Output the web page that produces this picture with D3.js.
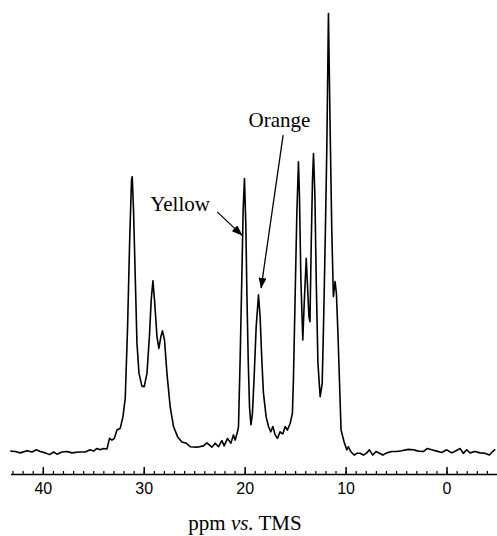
<!DOCTYPE html>
<html>
<head>
<meta charset="utf-8">
<script src="https://cdn.jsdelivr.net/npm/d3@7"></script>
<style>
	body { margin: 0; background: #fff; }
</style>
</head>
<body>
<svg id="svg"></svg>
<script>
// spectre : deplacement chimique (ppm) et intensite (pic le plus haut = 100)
var ppm = [43.22, 42.72, 42.23, 41.56, 41.07, 40.64, 40.25, 39.75, 39.33, 38.93, 38.60, 38.10, 37.61, 37.11, 36.46, 35.79, 35.30, 34.97, 34.63, 34.31,
	33.98, 33.64, 33.39, 33.15, 32.92, 32.65, 32.33, 32.06, 31.83, 31.60, 31.40, 31.21, 31.14, 31.01, 30.84, 30.67, 30.47, 30.18, 29.95, 29.68,
	29.42, 29.26, 29.09, 28.93, 28.69, 28.50, 28.30, 28.14, 27.94, 27.70, 27.38, 27.05, 26.65, 26.22, 25.79, 25.40, 24.73, 24.08, 23.74, 23.25,
	22.92, 22.59, 22.26, 22.03, 21.70, 21.37, 21.11, 20.94, 20.71, 20.61, 20.45, 20.28, 20.15, 20.02, 19.88, 19.78, 19.65, 19.52, 19.38, 19.23,
	19.06, 18.86, 18.63, 18.47, 18.30, 18.14, 17.87, 17.64, 17.41, 17.21, 16.98, 16.75, 16.49, 16.22, 15.99, 15.76, 15.50, 15.27, 15.17, 15.00,
	14.83, 14.67, 14.57, 14.43, 14.24, 14.10, 13.90, 13.77, 13.63, 13.53, 13.41, 13.28, 13.18, 13.04, 12.91, 12.74, 12.52, 12.32, 12.16, 12.00,
	11.86, 11.70, 11.53, 11.37, 11.21, 11.04, 10.91, 10.77, 10.61, 10.45, 10.15, 9.88, 9.72, 9.49, 9.16, 8.89, 8.56, 8.24, 7.90, 7.64,
	7.31, 6.98, 6.65, 6.31, 5.92, 5.43, 4.93, 4.44, 3.79, 3.29, 2.79, 2.30, 1.90, 1.47, 0.97, 0.48, -0.02, -0.51, -0.94, -1.34,
	-1.66, -2.00, -2.33, -2.82, -3.32, -3.81, -4.24, -4.57, -4.83];

var intensity = [0.2, 0.1, -0.2, 0.3, 0, 0.5, 0.1, -0.2, -0.6, 0, -0.5, 0, 0.1, -0.2, 0, 0, 0.5, 0.2, 0.8, 0.5,
	0.8, 0.7, 3.1, 2.7, 3.1, 5.0, 5.4, 8.0, 12.3, 28.5, 47.6, 62.0, 62.7, 55.1, 39.9, 24.8, 17.9, 15.0, 14.9, 17.9,
	27.0, 34.6, 39.0, 34.6, 26.3, 23.6, 26.3, 27.6, 25.5, 17.9, 10.3, 5.8, 3.5, 2.3, 2.0, 1.2, 1.1, 1.4, 2.1, 1.1,
	2.0, 1.2, 2.6, 1.4, 3.1, 2.0, 3.9, 2.7, 4.6, 5.8, 21.0, 39.9, 55.1, 62.3, 51.3, 36.2, 21.0, 10.3, 6.2, 8.8,
	17.2, 28.5, 35.8, 30.8, 21.0, 13.4, 8.0, 5.8, 4.6, 5.8, 3.9, 3.1, 4.6, 4.1, 5.8, 5.0, 6.5, 8.8, 16.4, 35.4,
	54.4, 66.1, 58.2, 39.2, 25.5, 33.9, 44.1, 37.7, 30.8, 29.7, 46.8, 62.0, 68.0, 58.2, 39.2, 20.2, 12.6, 15.6, 31.6, 50.6,
	69.5, 99.9, 73.3, 50.6, 35.4, 38.8, 36.1, 27.8, 16.4, 5.0, 2.3, 0.5, 1.2, 0.1, -0.7, -0.3, -0.3, -0.7, -0.2, 0.5,
	-0.7, 0.1, -0.3, -0.7, -0.2, 0.1, 0.1, 0.3, 0.6, 0.5, 0.2, 0.1, 0.8, 0.5, 0.2, -0.1, 0.5, -0.2, 0.3, 0.8,
	-0.3, 0.5, -0.2, 0.1, -0.2, -0.3, -0.7, 0.1, 0.6];

// graduations
var majorTicks = [40, 30, 20, 10, 0];
var minorTicks = d3.range(-4, 44, 1);
var axisTitle = ["ppm ", "vs.", " TMS"];

// etiquettes : texte, pic vise (ppm, intensite), depart fleche, position du texte
var labels = ["Yellow", "Orange"];
var labelTip = [[20.28, 49.4], [18.37, 37.4]];
var labelTail = [[22.72, 54.7], [16.19, 72.2]];
var labelText = [[29.36, 54.9], [19.62, 74.0]];

Spectre =
{
	width: 497,
	height: 536,

	init()
	{
		var that = this;

		canevas = d3.select("#svg")
			.attr("width", that.width)
			.attr("height", that.height)

		that.x = d3.scaleLinear().domain([43.2, -5.0]).range([10.5, 497])
		that.y = d3.scaleLinear().domain([0, 100]).range([452, 13])

		that.draw_axis()
		that.draw_spectre()
		that.draw_labels()
	},

	draw_axis()
	{
		var that = this;

		// petites graduations (1 ppm)
		canevas.append("g")
			.attr("transform", "translate(0,474)")
			.call(d3.axisBottom(that.x).tickValues(minorTicks).tickSize(-3).tickSizeOuter(0).tickFormat(""))
			.call(g => g.select(".domain").attr("stroke-width", 1.5))
			.call(g => g.selectAll(".tick line").attr("stroke-width", 1.2))

		// grandes graduations + chiffres
		canevas.append("g")
			.attr("transform", "translate(0,474)")
			.call(d3.axisBottom(that.x).tickValues(majorTicks).tickSize(-7).tickSizeOuter(0).tickPadding(9))
			.call(g => g.select(".domain").remove())
			.call(g => g.selectAll(".tick line").attr("stroke-width", 1.5))
			.call(g => g.selectAll("text")
				.attr("font-family", "'Liberation Sans', Arial, sans-serif")
				.attr("font-size", "16px")
				.attr("fill", "#000"))

		// titre de l'axe
		var t = canevas.append("text")
			.attr("x", 245)
			.attr("y", 530)
			.attr("text-anchor", "middle")
			.attr("font-family", "'Liberation Serif', 'Times New Roman', serif")
			.attr("font-size", "21px")

		t.append("tspan").text(axisTitle[0])
		t.append("tspan").attr("font-style", "italic").text(axisTitle[1])
		t.append("tspan").text(axisTitle[2])
	},

	draw_spectre()
	{
		var that = this;

		var line = d3.line()
			.x(function(d, i){return that.x(ppm[i])})
			.y(function(d){return that.y(d)})

		canevas.append("path")
			.datum(intensity)
			.attr("d", line)
			.attr("fill", "none")
			.attr("stroke", "#000")
			.attr("stroke-width", 1.6)
			.attr("stroke-linejoin", "round")
	},

	draw_labels()
	{
		var that = this;

		canevas.append("defs").append("marker")
			.attr("id", "fleche")
			.attr("markerUnits", "userSpaceOnUse")
			.attr("markerWidth", 11)
			.attr("markerHeight", 8)
			.attr("refX", 10)
			.attr("refY", 4)
			.attr("orient", "auto")
			.append("path")
			.attr("d", "M0,0 L11,4 L0,8 Z")
			.attr("fill", "#000")

		for (let i = 0; i < labels.length; i++){
			canevas.append("text")
				.text(labels[i])
				.attr("x", that.x(labelText[i][0]))
				.attr("y", that.y(labelText[i][1]))
				.attr("font-family", "'Liberation Serif', 'Times New Roman', serif")
				.attr("font-size", "21px")

			canevas.append("line")
				.attr("x1", that.x(labelTail[i][0]))
				.attr("y1", that.y(labelTail[i][1]))
				.attr("x2", that.x(labelTip[i][0]))
				.attr("y2", that.y(labelTip[i][1]))
				.attr("stroke", "#000")
				.attr("stroke-width", 1.3)
				.attr("marker-end", "url(#fleche)")
		}
	}
}

Spectre.init();
</script>
</body>
</html>
